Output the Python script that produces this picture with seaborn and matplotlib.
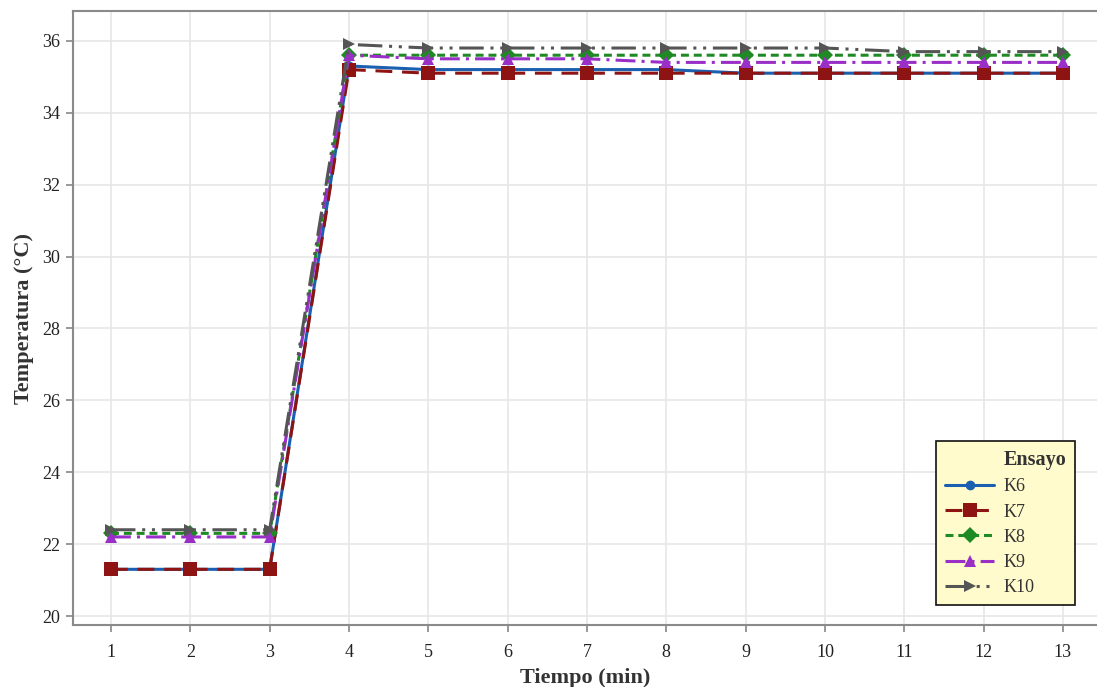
import numpy as np
import pandas as pd
import matplotlib
matplotlib.use("Agg")
import matplotlib.pyplot as plt
from matplotlib.lines import Line2D
import seaborn as sns

# --- data -------------------------------------------------------------
tiempo = list(range(1, 14))
ensayos = ["K6", "K7", "K8", "K9", "K10"]
k6 = [21.3, 21.3, 21.3, 35.3, 35.2, 35.2, 35.2, 35.2, 35.1, 35.1, 35.1, 35.1, 35.1]
k7 = [21.3, 21.3, 21.3, 35.2, 35.1, 35.1, 35.1, 35.1, 35.1, 35.1, 35.1, 35.1, 35.1]
k8 = [22.3, 22.3, 22.3, 35.6, 35.6, 35.6, 35.6, 35.6, 35.6, 35.6, 35.6, 35.6, 35.6]
k9 = [22.2, 22.2, 22.2, 35.6, 35.5, 35.5, 35.5, 35.4, 35.4, 35.4, 35.4, 35.4, 35.4]
k10 = [22.4, 22.4, 22.4, 35.9, 35.8, 35.8, 35.8, 35.8, 35.8, 35.8, 35.7, 35.7, 35.7]
yticks = [20, 22, 24, 26, 28, 30, 32, 34, 36]

series = {"K6": k6, "K7": k7, "K8": k8, "K9": k9, "K10": k10}
df = pd.DataFrame(
    [(t, name, v) for name, vals in series.items() for t, v in zip(tiempo, vals)],
    columns=["Tiempo", "Ensayo", "Temperatura"],
)

# --- styles -----------------------------------------------------------
colors = {"K6": "#1a5fb0", "K7": "#8e1414", "K8": "#1f8a24", "K9": "#9a2fc8", "K10": "#555555"}
markers = {"K6": "o", "K7": "s", "K8": "D", "K9": "^", "K10": ">"}
dashes = {
    "K6": "",
    "K7": (5.5, 3.2),
    "K8": (2.6, 1.6),
    "K9": (6.5, 2.0, 1.0, 2.0),
    "K10": (8.0, 2.2, 1.0, 2.2, 1.0, 2.2),
}
msizes = {"K6": 7, "K7": 9.5, "K8": 8, "K9": 9, "K10": 9}

sns.set_theme(style="whitegrid")
plt.rcParams["font.family"] = ["Liberation Serif", "DejaVu Serif"]

fig = plt.figure(figsize=(10.97, 6.87), dpi=100)
ax = fig.add_axes([0.0661, 0.0902, 0.9339, 0.8938])

sns.lineplot(
    data=df, x="Tiempo", y="Temperatura", hue="Ensayo", style="Ensayo",
    hue_order=ensayos, style_order=ensayos,
    palette=colors, markers=markers, dashes=dashes,
    linewidth=2.2, markersize=9, markeredgewidth=0,
    legend=False, ax=ax,
)
for line, name in zip(ax.get_lines(), ensayos):
    line.set_markersize(msizes[name])

ax.set_xlim(0.515, 13.43)
ax.set_ylim(19.75, 36.83)
ax.set_xticks(tiempo)
ax.set_yticks(yticks)
ax.tick_params(axis="both", labelsize=13, length=5, width=1.2, color="#888888",
               direction="out", labelcolor="#222222")
ax.tick_params(axis="x", bottom=True, pad=9)
ax.tick_params(axis="y", left=True, pad=4)
ax.grid(True, color="#e6e6e6", linewidth=1.2)
for side in ["left", "bottom", "top"]:
    ax.spines[side].set_visible(True)
    ax.spines[side].set_color("#8a8a8a")
    ax.spines[side].set_linewidth(1.5)
ax.spines["right"].set_visible(False)

ax.set_xlabel("Tiempo (min)", fontsize=16, fontweight="bold", color="#333333", labelpad=5)
ax.set_ylabel("Temperatura (°C)", fontsize=16, fontweight="bold", color="#333333", labelpad=6)

# legend with a bold header row in the label column
handles = [Line2D([], [], linestyle="none")]
labels = ["Ensayo"]
for name in ensayos:
    ls = "-" if dashes[name] == "" else (0, dashes[name])
    handles.append(Line2D([], [], color=colors[name], marker=markers[name],
                          linestyle=ls, linewidth=2.2, markersize=msizes[name],
                          markeredgewidth=0))
    labels.append(name)
leg = ax.legend(handles, labels, loc="lower right", bbox_to_anchor=(0.9785, 0.0326),
                borderaxespad=0, frameon=True, fancybox=False, fontsize=13,
                handlelength=2.7, handletextpad=0.5, labelspacing=0.45,
                borderpad=0.5)
leg.get_frame().set_facecolor("#fffbcc")
leg.get_frame().set_edgecolor("#111111")
leg.get_frame().set_linewidth(1.2)
leg.get_frame().set_alpha(1)
texts = leg.get_texts()
texts[0].set_fontweight("bold")
texts[0].set_fontsize(14.5)
for t in texts:
    t.set_color("#333333")

fig.savefig("out.png", dpi=100)
